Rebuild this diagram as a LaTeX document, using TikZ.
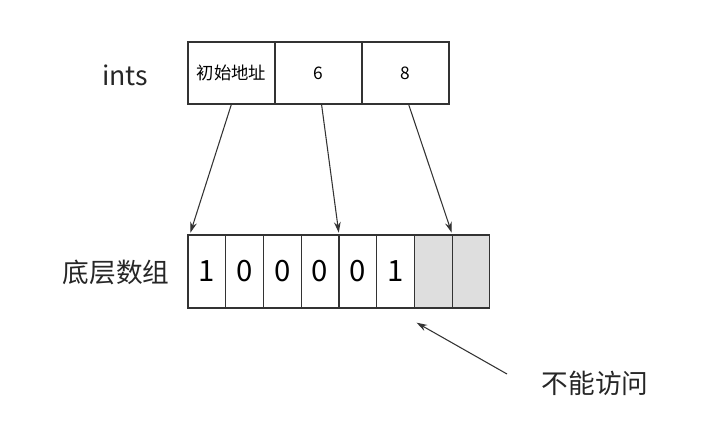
\documentclass[tikz,border=0pt]{standalone}
\usepackage{fontspec}
\setmainfont{Noto Sans CJK SC}
\usetikzlibrary{arrows.meta,positioning,calc}
\definecolor{linegray}{HTML}{333333}
\definecolor{cellgray}{HTML}{DEDEDE}

\begin{document}
\begin{tikzpicture}[>=Stealth,x=0.75pt,y=-0.75pt,
 topcell/.style={draw=linegray,line width=0.9pt,outer sep=0pt,minimum width=65.25pt,minimum height=46.5pt,inner sep=0pt,font=\fontsize{13}{15}\selectfont},
 arrcell/.style={draw=linegray,line width=0.9pt,outer sep=0pt,minimum width=28.3pt,minimum height=54.75pt,inner sep=0pt,font=\fontsize{22}{24}\selectfont},
 lab/.style={inner sep=0pt,text=black!85,font=\fontsize{20}{24}\selectfont},
 ptr/.style={-{Stealth[length=8pt,width=5pt]},draw=linegray,line width=0.8pt,shorten >=1pt}]
\useasboundingbox (0,0) rectangle (725,432);
% slice header
\node[topcell,anchor=north west] (t1) at (188,42) {初始地址};
\node[topcell,right=0pt of t1] (t2) {6};
\node[topcell,right=0pt of t2] (t3) {8};
\node[lab] (ints) at (125,75) {ints};
% underlying array
\node[arrcell,anchor=north west] (b1) at (188,235) {1};
\node[arrcell,right=0pt of b1] (b2) {0};
\node[arrcell,right=0pt of b2] (b3) {0};
\node[arrcell,right=0pt of b3] (b4) {0};
\node[arrcell,right=0pt of b4] (b5) {0};
\node[arrcell,right=0pt of b5] (b6) {1};
\node[arrcell,fill=cellgray,right=0pt of b6] (b7) {};
\node[arrcell,fill=cellgray,right=0pt of b7] (b8) {};
\node[lab] (arr) at (116,272) {底层数组};
\node[lab] (noacc) at (595,383) {不能访问};
\coordinate (tail) at (507,374);
\draw[ptr] (t1.south) -- ($(b1.north west)+(2,-1)$);
\draw[ptr] ($(t2.south)+(3,0)$) -- ($(b5.north west)+(0,-1)$);
\draw[ptr] ($(t3.south)+(3,0)$) -- ($(b8.north west)+(0,-1)$);
\draw[ptr] (tail) -- ($(b7.south west)+(1,14)$);
\end{tikzpicture}
\end{document}
